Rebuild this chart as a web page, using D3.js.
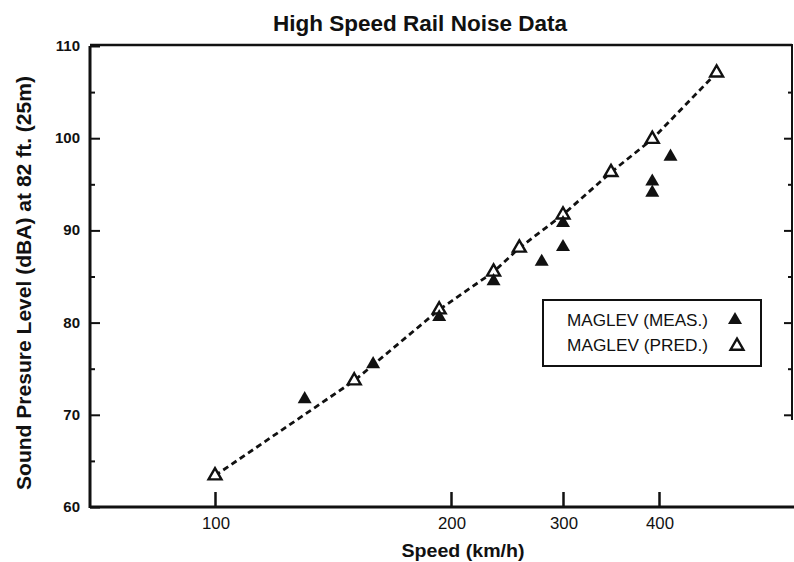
<!DOCTYPE html>
<html>
<head>
<meta charset="utf-8">
<script src="https://cdn.jsdelivr.net/npm/d3@7"></script>
<style>
  body { margin: 0; background: #fff; }
  text { fill: #111; }
</style>
</head>
<body>
<div class="noise_chart"></div>
<script>
// data
const predSpeed = [100, 159, 195, 238, 261, 300, 350, 393, 460];
const predLevel = [63.4, 73.7, 81.4, 85.5, 88.1, 91.7, 96.3, 99.9, 107.1];
const measSpeed = [138, 167, 195, 238, 281, 300, 300, 393, 393, 412];
const measLevel = [71.7, 75.5, 80.6, 84.5, 86.6, 88.2, 90.8, 95.3, 94.1, 98.0];

const xTicks = [100, 200, 300, 400];
const yTicks = [60, 70, 80, 90, 100, 110];
const yMinor = [65, 75, 85, 95, 105];
const legendLabels = ["MAGLEV (MEAS.)", "MAGLEV (PRED.)"];

const W = 794, H = 562;
const plot = { left: 90, right: 792, top: 46, bottom: 507 };

// the scan's speed axis is not evenly spaced, so use a piecewise scale
const x = d3.scaleLinear().domain([100, 200, 300, 400]).range([215, 451, 563, 659]);
const y = d3.scaleLinear().domain([60, 110]).range([plot.bottom, plot.top]);

const svg = d3.select(".noise_chart").append("svg")
    .attr("width", W)
    .attr("height", H);

const font = "'Liberation Sans Narrow', 'Liberation Sans', Arial, sans-serif";

// title
svg.append("text")
    .attr("x", 420)
    .attr("y", 31)
    .attr("text-anchor", "middle")
    .attr("textLength", 294)
    .attr("lengthAdjust", "spacingAndGlyphs")
    .style("font-family", "'Liberation Sans', Arial, sans-serif")
    .style("font-size", "22px")
    .style("font-weight", "bold")
    .text("High Speed Rail Noise Data");

// frame
const frame = svg.append("g")
    .attr("stroke", "#111")
    .attr("fill", "none");
frame.append("line").attr("x1", plot.left).attr("x2", plot.left)
    .attr("y1", plot.top).attr("y2", plot.bottom + 1).attr("stroke-width", 3);
frame.append("line").attr("x1", plot.left).attr("x2", W)
    .attr("y1", plot.bottom).attr("y2", plot.bottom).attr("stroke-width", 3);
frame.append("line").attr("x1", plot.left).attr("x2", plot.right)
    .attr("y1", plot.top - 1).attr("y2", plot.top - 1).attr("stroke-width", 2.5);
frame.append("line").attr("x1", plot.right).attr("x2", plot.right)
    .attr("y1", plot.top - 2).attr("y2", 420).attr("stroke-width", 2);

// y axis (ticks point inward)
const yAxis = svg.append("g")
    .attr("transform", `translate(${plot.left},0)`)
    .call(d3.axisRight(y).tickValues(yTicks).tickSize(10).tickFormat(""));
yAxis.select(".domain").remove();
yAxis.selectAll("line").attr("stroke", "#111").attr("stroke-width", 2);

const yAxisMinor = svg.append("g")
    .attr("transform", `translate(${plot.left},0)`)
    .call(d3.axisRight(y).tickValues(yMinor).tickSize(5).tickFormat(""));
yAxisMinor.select(".domain").remove();
yAxisMinor.selectAll("line").attr("stroke", "#111").attr("stroke-width", 2);

svg.append("g").selectAll("text")
    .data(yTicks)
    .enter().append("text")
    .attr("x", plot.left - 10)
    .attr("y", d => y(d) + 5)
    .attr("text-anchor", "end")
    .style("font-family", font)
    .style("font-size", "15px")
    .style("font-weight", "bold")
    .text(d => d);

// right side ticks
const yRight = svg.append("g")
    .attr("transform", `translate(${plot.right},0)`)
    .call(d3.axisLeft(y).tickValues(yTicks.concat(yMinor).filter(d => d > 65 && d < 110)).tickSize(5).tickFormat(""));
yRight.select(".domain").remove();
yRight.selectAll("line").attr("stroke", "#111").attr("stroke-width", 2)
    .attr("x2", d => d % 10 === 0 ? -8 : -4);

// x axis (ticks point up)
const xAxis = svg.append("g")
    .attr("transform", `translate(0,${plot.bottom})`)
    .call(d3.axisTop(x).tickValues(xTicks).tickSize(15).tickFormat(""));
xAxis.select(".domain").remove();
xAxis.selectAll("line").attr("stroke", "#111").attr("stroke-width", 2.5);

svg.append("g").selectAll("text")
    .data(xTicks)
    .enter().append("text")
    .attr("x", d => x(d) + 1)
    .attr("y", 529)
    .attr("text-anchor", "middle")
    .attr("textLength", 28)
    .attr("lengthAdjust", "spacingAndGlyphs")
    .style("font-family", font)
    .style("font-size", "17px")
    .text(d => d);

// axis labels
svg.append("text")
    .attr("x", 463)
    .attr("y", 557)
    .attr("text-anchor", "middle")
    .attr("textLength", 123)
    .attr("lengthAdjust", "spacingAndGlyphs")
    .style("font-family", "'Liberation Sans', Arial, sans-serif")
    .style("font-size", "19px")
    .style("font-weight", "bold")
    .text("Speed (km/h)");

svg.append("text")
    .attr("transform", "translate(31,283) rotate(-90)")
    .attr("text-anchor", "middle")
    .attr("textLength", 414)
    .attr("lengthAdjust", "spacingAndGlyphs")
    .style("font-family", "'Liberation Sans', Arial, sans-serif")
    .style("font-size", "21px")
    .style("font-weight", "bold")
    .text("Sound Presure Level (dBA) at 82 ft. (25m)");

// predicted line
const pred = predSpeed.map((s, i) => ({ s: s, v: predLevel[i] }));
const meas = measSpeed.map((s, i) => ({ s: s, v: measLevel[i] }));

const line = d3.line()
    .x(d => x(d.s))
    .y(d => y(d.v));

svg.append("path")
    .datum(pred)
    .attr("d", line)
    .attr("fill", "none")
    .attr("stroke", "#111")
    .attr("stroke-width", 2.8)
    .attr("stroke-dasharray", "6,4");

const tri = d3.symbol().type(d3.symbolTriangle);

svg.append("g").selectAll("path")
    .data(pred)
    .enter().append("path")
    .attr("transform", d => `translate(${x(d.s)},${y(d.v)})`)
    .attr("d", tri.size(72)())
    .attr("fill", "#fff")
    .attr("stroke", "#111")
    .attr("stroke-width", 2.4);

svg.append("g").selectAll("path")
    .data(meas)
    .enter().append("path")
    .attr("transform", d => `translate(${x(d.s)},${y(d.v)})`)
    .attr("d", tri.size(85)())
    .attr("fill", "#111");

// legend
const legend = svg.append("g");
legend.append("rect")
    .attr("x", 543).attr("y", 300)
    .attr("width", 218).attr("height", 66)
    .attr("fill", "#fff")
    .attr("stroke", "#111")
    .attr("stroke-width", 2);

legend.selectAll("text")
    .data(legendLabels)
    .enter().append("text")
    .attr("x", 708)
    .attr("y", (d, i) => 326 + i * 25)
    .attr("text-anchor", "end")
    .attr("textLength", 141)
    .attr("lengthAdjust", "spacingAndGlyphs")
    .style("font-family", font)
    .style("font-size", "17px")
    .style("font-weight", "500")
    .text(d => d);

legend.append("path")
    .attr("transform", "translate(735,320)")
    .attr("d", tri.size(85)())
    .attr("fill", "#111");
legend.append("path")
    .attr("transform", "translate(737,346)")
    .attr("d", tri.size(72)())
    .attr("fill", "#fff")
    .attr("stroke", "#111")
    .attr("stroke-width", 2.4);
</script>
</body>
</html>
